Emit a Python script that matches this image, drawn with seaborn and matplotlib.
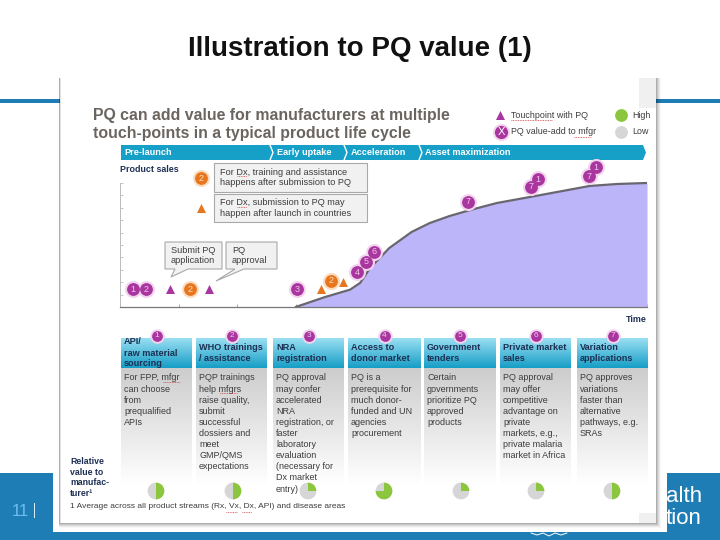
import matplotlib
matplotlib.use("Agg")
import matplotlib.pyplot as plt
from matplotlib.patches import Polygon, Rectangle
import numpy as np
import pandas as pd
import seaborn as sns

# sales curve, time and sales in tick units
curve_time = [3.0, 3.5, 3.93, 4.1, 4.27, 4.6, 4.98, 5.29, 5.63, 5.98, 6.44, 7.0, 7.46, 8.02, 8.49, 9.0]
curve_sales = [0, 0.8, 1.4, 1.94, 3.14, 4.76, 6.05, 6.77, 7.34, 7.82, 8.39, 8.87, 9.27, 9.76, 9.92, 10]

# touchpoints on the curve
value_time = [0.22, 0.44, 3.02, 4.05, 4.2, 4.34, 5.94, 7.02, 7.14, 8.01, 8.13]
value_sales = [1.45, 1.45, 1.45, 2.82, 3.63, 4.44, 8.47, 9.68, 10.32, 10.56, 11.29]
value_ids = [1, 2, 3, 4, 5, 6, 7, 7, 1, 7, 1]
dx_time = [1.38, 1.2, 3.6]
dx_sales = [10.4, 1.45, 2.1]
dx_tri_time = [1.38, 3.43, 3.81]
dx_tri_sales = [7.98, 1.45, 2.02]
tri_time = [0.85, 1.52]
tri_sales = [1.45, 1.45]

headers = [
    ["API/", "raw material", "sourcing"],
    ["WHO trainings", "/ assistance"],
    ["NRA", "registration"],
    ["Access to", "donor market"],
    ["Government", "tenders"],
    ["Private market", "sales"],
    ["Variation", "applications"],
]
bodies = [
    "For FPP, mfgr\ncan choose\nfrom\nprequalified\nAPIs",
    "PQP trainings\nhelp mfgrs\nraise quality,\nsubmit\nsuccessful\ndossiers and\nmeet\nGMP/QMS\nexpectations",
    "PQ approval\nmay confer\naccelerated\nNRA\nregistration, or\nfaster\nlaboratory\nevaluation\n(necessary for\nDx market\nentry)",
    "PQ is a\nprerequisite for\nmuch donor-\nfunded and UN\nagencies\nprocurement",
    "Certain\ngovernments\nprioritize PQ\napproved\nproducts",
    "PQ approval\nmay offer\ncompetitive\nadvantage on\nprivate\nmarkets, e.g.,\nprivate malaria\nmarket in Africa",
    "PQ approves\nvariations\nfaster than\nalternative\npathways, e.g.\nSRAs",
]
high_share = [50, 50, 25, 75, 25, 25, 50]
stages = ["Pre-launch", "Early uptake", "Acceleration", "Asset maximization"]

# layout in reference pixels
col_left = [121, 196, 273, 348, 424, 500, 577]
col_right = [192, 267, 344, 421, 496, 571, 648]
pie_x = [156, 233, 308, 384, 461, 536, 612]
stage_x = [124, 277, 351, 425]
chevron_x = [270, 344, 419]

BLUE = "#1f7db6"
TEAL = "#16a0c8"
NAVY = "#1d2f52"
PURPLE = "#a8369e"
ORANGE = "#e8761e"
HALO = "#f3d4ef"
HALO_OR = "#fbdcc0"
GREEN = "#8cc63f"
GREY = "#d6d6d6"
TXT = "#3c3c3c"

sns.set_theme(style="white")
plt.rcParams["font.family"] = ["Liberation Sans", "DejaVu Sans"]

fig = plt.figure(figsize=(7.2, 5.4), dpi=100, facecolor="white")
bg = fig.add_axes([0, 0, 1, 1], zorder=0)
bg.axis("off")


def box(x0, y0, x1, y1, **kw):
    bg.add_patch(Rectangle((x0, y0), x1 - x0, y1 - y0, linewidth=kw.pop("lw", 0), **kw))


def gradient(x0, y0, x1, y1, top, bottom):
    c0 = np.array(matplotlib.colors.to_rgb(top))
    c1 = np.array(matplotlib.colors.to_rgb(bottom))
    t = np.linspace(0, 1, 64)[:, None, None]
    img = c0[None, None, :] * (1 - t) + c1[None, None, :] * t
    bg.imshow(img, extent=(x0, x1, y1, y0), aspect="auto", zorder=2, interpolation="bilinear")


def callout(points, **kw):
    bg.add_patch(Polygon(points, closed=True, facecolor="#f1f1f1", edgecolor="#a9a9a9",
                         linewidth=0.8, zorder=3, **kw))


# slide background
box(0, 473, 720, 540, facecolor=BLUE, zorder=0)
box(53, 460, 667, 532, facecolor="white", zorder=0.5)
box(667, 473, 720, 540, facecolor=BLUE, zorder=0.5)
box(0, 99, 60, 102.5, facecolor=BLUE, zorder=0.5)
box(656, 99, 720, 102.5, facecolor=BLUE, zorder=0.5)
bg.text(360, 49, "Illustration to PQ value (1)", ha="center", va="center", fontsize=20,
        fontweight="bold", color="#111111")
bg.text(20, 512, "11", ha="center", va="center", fontsize=12, color="#6fbdf0")
box(33.5, 503, 34.5, 518, facecolor="#d5ecfa", zorder=1)
bg.text(666, 497, "alth", ha="left", va="center", fontsize=16, color="white", zorder=1)
bg.text(666, 519, "tion", ha="left", va="center", fontsize=16, color="white", zorder=1)
# bit of the logo showing under the card
bg.plot([531, 537, 543, 549, 555, 561, 567], [533, 535, 533, 536, 533, 535, 533], color="white",
        linewidth=0.7, zorder=0.6)

# card with a soft shadow
for grow, alpha in zip([5, 4, 3, 2, 1], [0.03, 0.05, 0.07, 0.09, 0.12]):
    box(59, 78, 656 + grow, 523 + grow, facecolor="black", alpha=alpha, zorder=0.8)
box(60, 78, 656, 523, facecolor="white", zorder=1)
box(60, 78, 61, 523, facecolor="#e2e2e2", zorder=1.1)
box(639, 78, 656, 108, facecolor="#f0f0f0", zorder=1.1)
box(639, 513, 656, 523, facecolor="#f0f0f0", zorder=1.1)

bg.text(93, 124.5, "PQ can add value for manufacturers at multiple\ntouch-points in a typical product life cycle",
        ha="left", va="center", fontsize=11.4, fontweight="bold", color="#6b6560",
        linespacing=1.28, zorder=3)

# key at top right
bg.scatter([500], [115], marker="^", s=42, color=PURPLE, linewidth=0, zorder=3)
bg.scatter([501], [132], marker="o", s=150, color=HALO, linewidth=0, zorder=3)
bg.scatter([501], [132], marker="o", s=90, color=PURPLE, linewidth=0, zorder=3)
bg.text(501, 132.3, "X", ha="center", va="center", fontsize=8, color="white", zorder=4)
bg.text(511, 115, "Touchpoint with PQ", ha="left", va="center", fontsize=6.4, color=TXT, zorder=3)
bg.text(511, 132, "PQ value-add to mfgr", ha="left", va="center", fontsize=6.4, color=TXT, zorder=3)
bg.scatter([621], [115], marker="o", s=85, color=GREEN, linewidth=0, zorder=3)
bg.scatter([621], [132], marker="o", s=85, color=GREY, linewidth=0, zorder=3)
bg.text(632, 115, "High", ha="left", va="center", fontsize=6.4, color=TXT, zorder=3)
bg.text(632, 132, "Low", ha="left", va="center", fontsize=6.4, color=TXT, zorder=3)

# stage band
bg.add_patch(Polygon([(121, 145), (643, 145), (646, 152.5), (643, 160), (121, 160)],
                     facecolor=TEAL, linewidth=0, zorder=2))
for x in chevron_x:
    bg.plot([x, x + 3, x], [145, 152.5, 160], color="white", linewidth=1, zorder=3)
for x, name in zip(stage_x, stages):
    bg.text(x, 152.7, name, ha="left", va="center", fontsize=6.6, fontweight="bold",
            color="white", zorder=3)

bg.text(120, 170, "Product sales", ha="left", va="center", fontsize=6.4, fontweight="bold",
        color=NAVY, zorder=3)
bg.text(647, 320, "Time", ha="right", va="center", fontsize=6.4, fontweight="bold",
        color=NAVY, zorder=3)

# callouts
callout([(214, 163), (367, 163), (367, 192), (214, 192)])
callout([(214, 194), (367, 194), (367, 222), (214, 222)])
callout([(165, 242), (222, 242), (222, 269), (188, 269), (171, 277), (175, 269), (165, 269)])
callout([(226, 242), (277, 242), (277, 269), (244, 269), (216, 281), (235, 269), (226, 269)])
bg.text(220, 177.5, "For Dx, training and assistance\nhappens after submission to PQ", ha="left",
        va="center", fontsize=6.6, color=TXT, linespacing=1.2, zorder=4)
bg.text(220, 208, "For Dx, submission to PQ may\nhappen after launch in countries", ha="left",
        va="center", fontsize=6.6, color=TXT, linespacing=1.2, zorder=4)
bg.text(171, 255.5, "Submit PQ\napplication", ha="left", va="center", fontsize=6.6, color=TXT,
        linespacing=1.2, zorder=4)
bg.text(232, 255.5, "PQ\napproval", ha="left", va="center", fontsize=6.6, color=TXT,
        linespacing=1.2, zorder=4)

# columns
for i, (x0, x1) in enumerate(zip(col_left, col_right)):
    gradient(x0, 338, x1, 368, "#9adff2", "#169ec6")
    gradient(x0, 368, x1, 485, "#cdcdcd", "#ffffff")
    n = len(headers[i])
    for j, line in enumerate(headers[i]):
        bg.text(x0 + 3, 353 + (j - (n - 1) / 2) * 11, line, ha="left", va="center", fontsize=6.6,
                fontweight="bold", color=NAVY, zorder=6)
    bg.text(x0 + 3, 373.5, bodies[i], ha="left", va="top", fontsize=6.5, color=TXT,
            linespacing=1.3, zorder=4)
    cx = (x0 + x1) / 2
    bg.scatter([cx], [335.5], marker="o", s=110, color=HALO, linewidth=0, zorder=5)
    bg.scatter([cx], [335.5], marker="o", s=60, color=PURPLE, linewidth=0, zorder=5)
    bg.text(cx, 335.8, str(i + 1), ha="center", va="center", fontsize=6, color="#f4c6ee", zorder=6)

bg.text(70, 477.5, "Relative\nvalue to\nmanufac-\nturer\u00b9", ha="left", va="center", fontsize=6.3,
        fontweight="bold", color=NAVY, linespacing=1.2, zorder=4)
bg.text(70, 507, "1 Average across all product streams (Rx, Vx, Dx, API) and disease areas",
        ha="left", va="center", fontsize=6.0, color=TXT, zorder=4)

# spell-check squiggles as in the screenshot
for x0, x1, y in [(511, 552, 120), (574, 591, 137), (237, 247, 176), (237, 247, 207),
                  (163, 180, 382), (220, 237, 393), (226, 237, 512), (242, 252, 512)]:
    bg.plot([x0, x1], [y, y], color="#d04040", linewidth=0.6, linestyle=(0, (1, 1)), zorder=5)

bg.set_xlim(0, 720)
bg.set_ylim(540, 0)

# sales chart
ax = fig.add_axes([120 / 720, (540 - 307) / 540, 527 / 720, 148.8 / 540], zorder=1)
ax.patch.set_visible(False)
sales = pd.DataFrame({"time": curve_time, "sales": curve_sales})
ax.fill_between(curve_time, curve_sales, 0, color="#bdb5fa", linewidth=0, zorder=1)
sns.lineplot(data=sales, x="time", y="sales", color="#68666f", linewidth=1.6, ax=ax, zorder=2)

halo_kw = dict(marker="o", s=150, linewidth=0, legend=False, ax=ax, zorder=3)
dot_kw = dict(marker="o", s=85, linewidth=0, legend=False, ax=ax, zorder=4)
tri_kw = dict(marker="^", s=42, linewidth=0, legend=False, ax=ax, zorder=4)
sns.scatterplot(x=value_time, y=value_sales, color=HALO, **halo_kw)
sns.scatterplot(x=value_time, y=value_sales, color=PURPLE, **dot_kw)
sns.scatterplot(x=dx_time, y=dx_sales, color=HALO_OR, **halo_kw)
sns.scatterplot(x=dx_time, y=dx_sales, color=ORANGE, **dot_kw)
sns.scatterplot(x=dx_tri_time, y=dx_tri_sales, color=ORANGE, **tri_kw)
sns.scatterplot(x=tri_time, y=tri_sales, color=PURPLE, **tri_kw)
for t, s, n in zip(value_time, value_sales, value_ids):
    ax.text(t, s, str(n), ha="center", va="center", fontsize=6.5, color="#f4c6ee", zorder=5)
for t, s in zip(dx_time, dx_sales):
    ax.text(t, s, "2", ha="center", va="center", fontsize=6.5, color="#fbdcc0", zorder=5)

ax.set_xlim(0, 9)
ax.set_ylim(0, 12)
ax.set_xlabel("")
ax.set_ylabel("")
ax.set_xticks(range(0, 10))
ax.set_yticks(range(0, 11))
ax.set_xticklabels([])
ax.set_yticklabels([])
ax.tick_params(axis="x", direction="in", length=2.5, width=0.6, color="#999999", bottom=True)
ax.tick_params(axis="y", direction="in", length=2.5, width=0.6, color="#bbbbbb", left=True)
sns.despine(ax=ax)
ax.spines["left"].set_bounds(0, 10)
ax.spines["left"].set_color("#bbbbbb")
ax.spines["left"].set_linewidth(0.7)
ax.spines["bottom"].set_color("#777777")
ax.spines["bottom"].set_linewidth(0.9)

# relative value pies
for x, share in zip(pie_x, high_share):
    pie_ax = fig.add_axes([(x - 10.5) / 720, (540 - 501.5) / 540, 21 / 720, 21 / 540], zorder=2)
    pie_ax.pie([share, 100 - share], colors=[GREEN, GREY], startangle=90, counterclock=False,
               radius=1.0, wedgeprops={"linewidth": 0})

fig.savefig("out.png", dpi=100)
